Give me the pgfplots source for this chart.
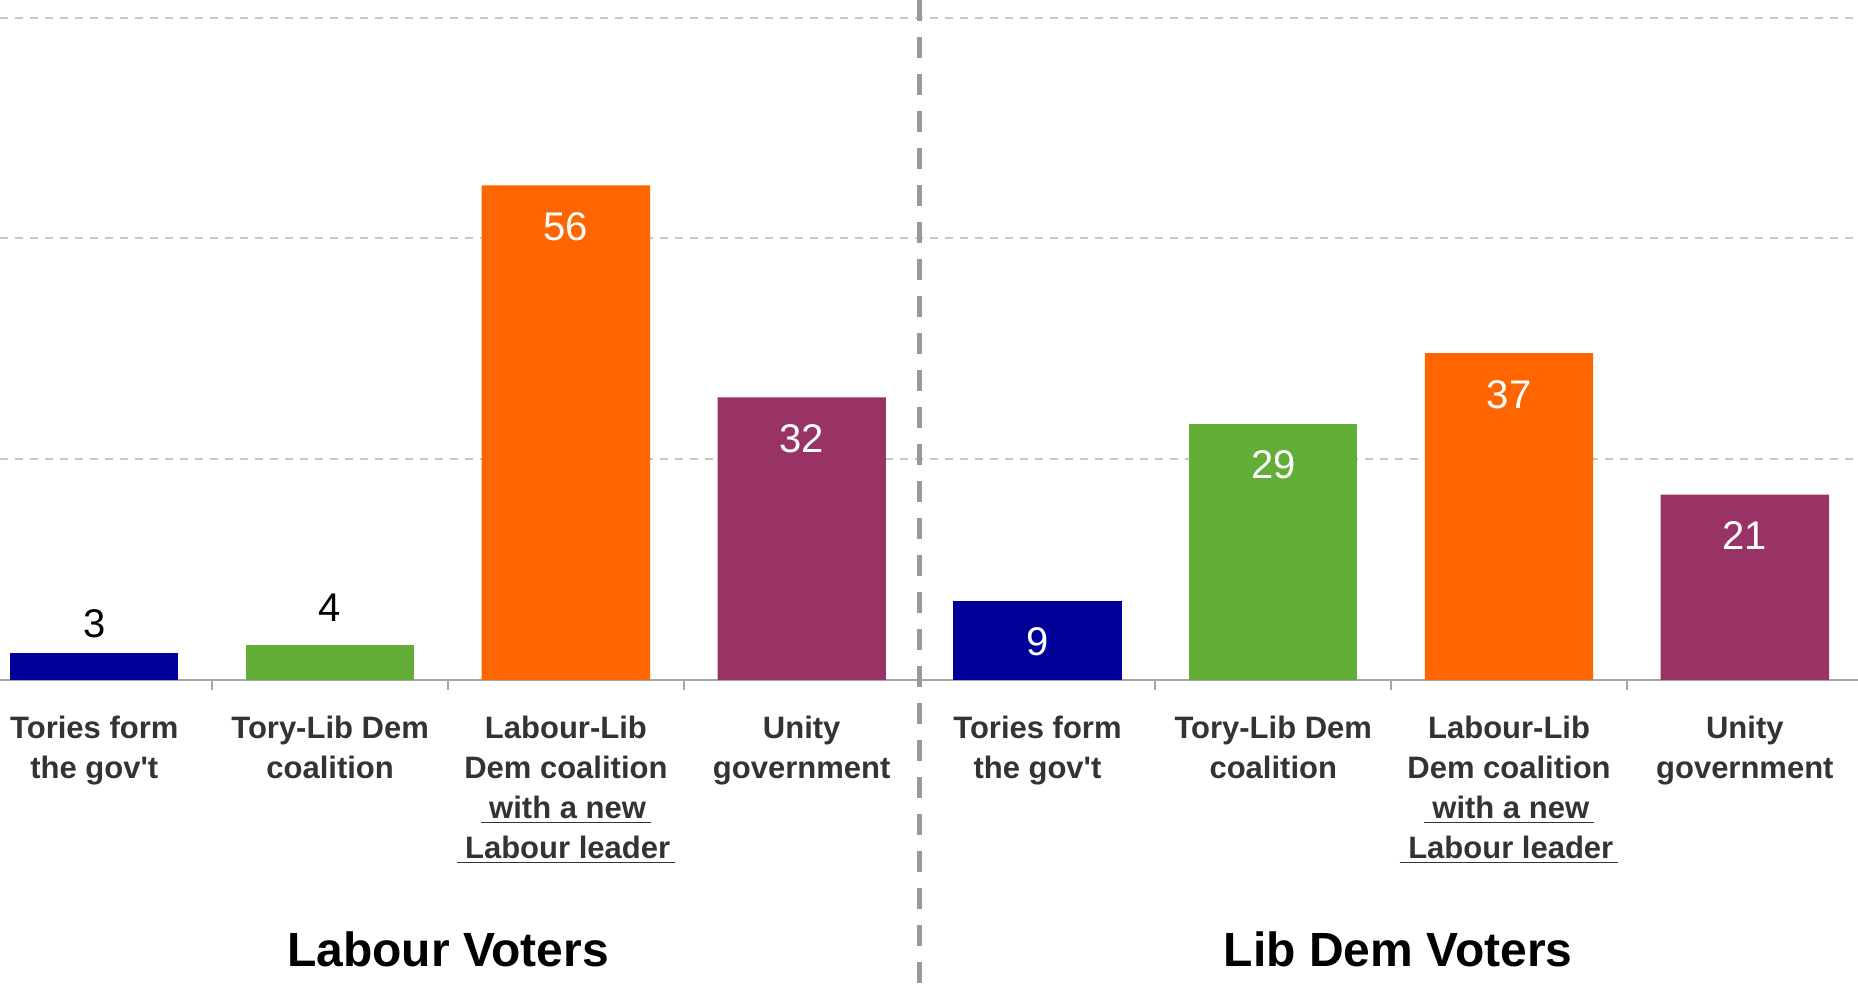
\documentclass[border=0pt]{standalone}
\usepackage{pgfplots}
\pgfplotsset{compat=1.18}
\usepackage{fontspec}
\setmainfont{Liberation Sans}
\definecolor{cnavy}{HTML}{000099}
\definecolor{cgreen}{HTML}{62AE37}
\definecolor{corange}{HTML}{FF6600}
\definecolor{cpurple}{HTML}{993366}
\definecolor{ctext}{HTML}{333333}
\definecolor{caxis}{HTML}{A6A6A6}
\definecolor{cgrid}{HTML}{C8C8C8}
\definecolor{csep}{HTML}{999999}
\begin{document}
\begin{tikzpicture}
\begin{axis}[
  scale only axis, width=929pt, height=340pt,
  xmin=-0.4, xmax=7.48, ymin=0, ymax=77,
  ybar, bar width=0.714, bar shift=0pt,
  clip=false,
  axis x line*=bottom, axis y line*=left,
  y axis line style={draw=none},
  x axis line style={caxis, line width=1pt},
  ytick={25,50,75}, yticklabels={}, major y tick style={draw=none},
  ymajorgrids, grid style={cgrid, line width=1pt, dash pattern=on 4pt off 3.5pt},
  xtick={0,...,7},
  xticklabels={
    Tories form\\the gov\textquotesingle t,
    Tory-Lib Dem\\coalition,
    Labour-Lib\\Dem coalition\\\underline{\ with a new\,}\\\underline{\ Labour leader\,},
    Unity\\government,
    Tories form\\the gov\textquotesingle t,
    Tory-Lib Dem\\coalition,
    Labour-Lib\\Dem coalition\\\underline{\ with a new\,}\\\underline{\ Labour leader\,},
    Unity\\government},
  major x tick style={draw=none},
  minor xtick={0.5,1.5,2.5,4.5,5.5,6.5},
  tick align=outside, minor tick length=5pt,
  minor x tick style={caxis, line width=1pt},
  xticklabel style={align=center, font=\fontsize{15.5}{20}\selectfont\bfseries, text=ctext, inner sep=0pt, anchor=north, yshift=-13.8pt},
  /pgf/number format/assume math mode=true,
  nodes near coords,
]
\addplot[fill=cnavy, draw=none, nodes near coords style={anchor=center, yshift=15pt, text=black, font=\fontsize{20}{24}\selectfont}] coordinates {(0,3)};
\addplot[fill=cnavy, draw=none, nodes near coords style={anchor=center, yshift=-20.5pt, text=white, font=\fontsize{20}{24}\selectfont}] coordinates {(4,9)};
\addplot[fill=cgreen, draw=none, nodes near coords style={anchor=center, yshift=18.5pt, text=black, font=\fontsize{20}{24}\selectfont}] coordinates {(1,4)};
\addplot[fill=cgreen, draw=none, nodes near coords style={anchor=center, yshift=-20.5pt, text=white, font=\fontsize{20}{24}\selectfont}] coordinates {(5,29)};
\addplot[fill=corange, draw=none, nodes near coords style={anchor=center, yshift=-20.5pt, text=white, font=\fontsize{20}{24}\selectfont}] coordinates {(2,56) (6,37)};
\addplot[fill=cpurple, draw=none, nodes near coords style={anchor=center, yshift=-20.5pt, text=white, font=\fontsize{20}{24}\selectfont}] coordinates {(3,32) (7,21)};
\draw[csep, line width=2.5pt, dash pattern=on 10.5pt off 8pt] (axis cs:3.5,77) -- ([yshift=-155.5pt]axis cs:3.5,0);
\node[font=\fontsize{24}{28}\selectfont\bfseries, text=black] at ([yshift=-134.5pt]axis cs:1.5,0) {Labour Voters};
\node[font=\fontsize{24}{28}\selectfont\bfseries, text=black] at ([yshift=-134.5pt]axis cs:5.53,0) {Lib Dem Voters};
\end{axis}
\pgfresetboundingbox
\path (current axis.south west) ++(0,-155.5pt) rectangle (current axis.north east);
\end{tikzpicture}
\end{document}
